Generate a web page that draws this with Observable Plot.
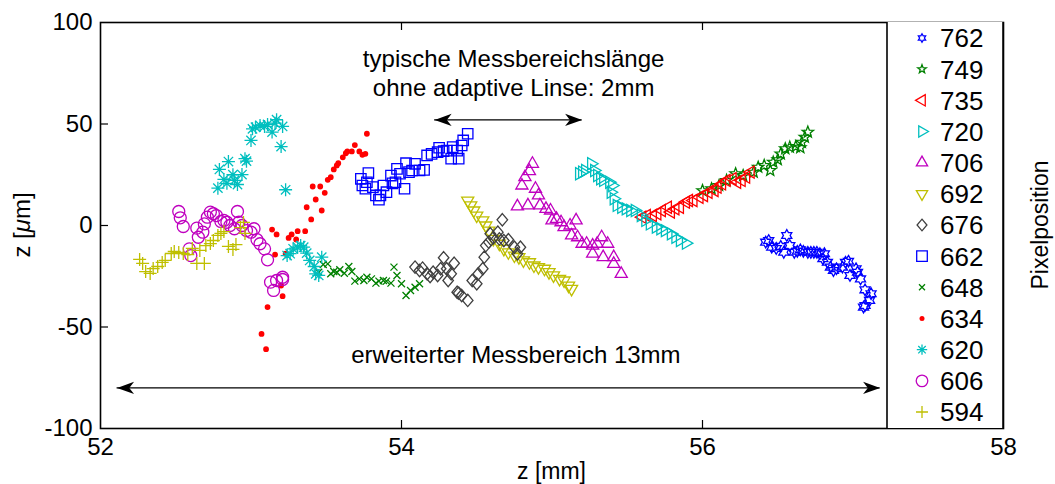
<!DOCTYPE html>
<html><head><meta charset="utf-8">
<script src="https://cdn.jsdelivr.net/npm/d3@7"></script>
<script src="https://cdn.jsdelivr.net/npm/@observablehq/plot@0.6"></script>
<style>
body{margin:0;background:#fff}
svg{font-family:"Liberation Sans",Arial,Helvetica,sans-serif}
</style>
</head><body><div id="chart"></div>
<script>
// ---------- data: [z in mm, z in µm] ----------
const s762 = [[56.42,-8.2],[56.44,-7.4],[56.46,-10.7],[56.49,-11.3],[56.52,-10.3],[56.54,-13.2],[56.56,-4.9],[56.58,-9.9],[56.61,-13.2],[56.63,-12.7],[56.65,-12.0],[56.67,-12.7],[56.70,-13.2],[56.72,-13.2],[56.74,-13.2],[56.76,-13.2],[56.78,-13.9],[56.80,-16.4],[56.81,-13.9],[56.83,-18.1],[56.85,-20.5],[56.87,-22.2],[56.89,-21.3],[56.93,-20.5],[56.95,-18.1],[56.97,-17.6],[56.98,-24.6],[57.02,-21.3],[57.03,-23.0],[57.05,-26.3],[57.08,-31.7],[57.12,-33.6],[57.11,-36.9],[57.08,-39.4],[57.07,-40.2]];
const s749 = [[56.00,17.2],[56.06,18.1],[56.11,19.7],[56.16,22.2],[56.22,25.5],[56.27,24.6],[56.34,26.3],[56.37,28.7],[56.41,29.6],[56.45,27.1],[56.47,31.2],[56.50,32.4],[56.52,35.3],[56.55,37.8],[56.58,38.6],[56.62,38.9],[56.65,38.3],[56.66,41.0],[56.68,43.5],[56.70,46.0]];
const s735 = [[55.60,4.1],[55.63,4.9],[55.67,4.9],[55.70,5.8],[55.73,7.4],[55.77,9.0],[55.79,6.6],[55.82,8.2],[55.85,9.0],[55.89,11.5],[55.91,12.3],[55.94,12.3],[55.98,13.9],[56.01,14.8],[56.04,16.4],[56.08,17.2],[56.10,18.9],[56.13,20.5],[56.16,22.2],[56.20,23.0],[56.23,21.3],[56.26,22.2],[56.29,23.8],[56.32,26.3]];
const s720 = [[55.18,25.5],[55.20,26.3],[55.22,27.1],[55.26,30.4],[55.28,27.1],[55.30,24.6],[55.32,23.0],[55.34,22.2],[55.38,21.3],[55.40,19.7],[55.39,16.4],[55.41,13.2],[55.43,9.9],[55.46,9.0],[55.49,8.2],[55.52,7.4],[55.55,7.4],[55.59,4.9],[55.62,2.5],[55.65,0.8],[55.69,-0.8],[55.72,-1.6],[55.75,-2.5],[55.79,-4.1],[55.82,-5.8],[55.85,-7.4],[55.89,-8.7]];
const s706 = [[54.77,9.4],[54.80,19.7],[54.82,23.8],[54.84,9.9],[54.85,26.8],[54.87,30.4],[54.89,18.1],[54.91,14.8],[54.92,9.9],[54.96,8.2],[54.99,7.4],[55.00,2.5],[55.03,3.3],[55.06,1.6],[55.08,-0.8],[55.12,0.0],[55.13,-4.9],[55.16,2.5],[55.17,-5.8],[55.20,-9.0],[55.23,-9.0],[55.27,-9.9],[55.27,-13.9],[55.30,-9.0],[55.33,-5.8],[55.34,-15.6],[55.37,-9.0],[55.41,-15.6],[55.41,-18.9],[55.46,-23.8]];
const s692 = [[54.44,12.3],[54.46,9.9],[54.48,7.4],[54.50,4.9],[54.54,2.5],[54.56,0.0],[54.58,-2.5],[54.61,-6.6],[54.65,-9.0],[54.68,-11.5],[54.71,-13.2],[54.75,-14.8],[54.78,-15.6],[54.81,-17.2],[54.85,-18.1],[54.88,-19.7],[54.91,-20.5],[54.95,-21.3],[54.98,-23.0],[55.01,-24.6],[55.05,-26.3],[55.08,-27.1],[55.11,-29.6],[55.13,-31.2]];
const s676 = [[54.09,-20.5],[54.12,-22.2],[54.14,-21.0],[54.17,-23.8],[54.19,-25.1],[54.21,-23.0],[54.24,-24.6],[54.26,-21.3],[54.28,-15.9],[54.30,-21.3],[54.31,-27.1],[54.33,-23.8],[54.35,-18.6],[54.37,-32.9],[54.38,-33.3],[54.40,-34.5],[54.44,-36.9],[54.47,-27.1],[54.50,-28.7],[54.51,-23.8],[54.54,-21.3],[54.55,-15.6],[54.56,-9.9],[54.58,-8.2],[54.59,-4.1],[54.61,-6.1],[54.64,-3.3],[54.65,-6.6],[54.67,2.8],[54.68,-7.4],[54.71,-7.0],[54.75,-10.7],[54.77,-13.9],[54.79,-10.7]];
const s662 = [[53.73,23.0],[53.74,19.7],[53.76,18.1],[53.77,21.3],[53.78,25.8],[53.81,18.9],[53.83,14.8],[53.85,12.7],[53.86,14.8],[53.88,19.7],[53.90,16.4],[53.93,24.6],[53.94,20.8],[53.96,21.3],[53.97,27.9],[53.99,25.5],[54.02,18.1],[54.03,30.7],[54.05,26.3],[54.07,27.1],[54.09,30.4],[54.12,27.1],[54.15,27.4],[54.17,34.5],[54.20,35.3],[54.24,36.1],[54.25,38.3],[54.28,36.6],[54.30,36.9],[54.33,32.9],[54.34,38.6],[54.37,36.9],[54.38,32.9],[54.40,39.4],[54.41,41.9],[54.44,45.2]];
const s648 = [[53.45,-23.0],[53.48,-19.2],[53.51,-18.9],[53.53,-23.8],[53.55,-22.7],[53.57,-23.0],[53.59,-21.8],[53.62,-23.5],[53.65,-20.2],[53.67,-22.7],[53.69,-27.4],[53.72,-26.3],[53.75,-27.1],[53.77,-25.5],[53.80,-26.3],[53.83,-28.4],[53.85,-27.4],[53.88,-27.1],[53.90,-27.4],[53.93,-28.4],[53.95,-20.5],[53.97,-24.6],[54.00,-28.7],[54.03,-34.5],[54.06,-32.0],[54.09,-30.4],[54.12,-28.7]];
const s634 = [[53.07,-53.4],[53.10,-60.9],[53.11,-40.2],[53.14,-2.0],[53.16,-14.3],[53.17,-4.4],[53.20,-29.6],[53.21,-34.8],[53.23,-13.9],[53.25,-6.1],[53.27,-4.4],[53.30,-6.9],[53.31,-2.8],[53.36,-2.8],[53.37,9.0],[53.40,3.0],[53.41,19.2],[53.43,12.8],[53.46,19.2],[53.47,7.4],[53.49,16.1],[53.51,22.5],[53.53,23.8],[53.55,27.6],[53.57,29.6],[53.58,30.7],[53.61,33.6],[53.63,35.6],[53.64,36.5],[53.67,36.5],[53.69,39.6],[53.72,36.5],[53.74,34.8],[53.76,35.3],[53.77,45.2]];
const s620 = [[52.78,18.4],[52.79,27.6],[52.82,22.7],[52.84,20.8],[52.85,31.5],[52.88,25.0],[52.89,22.2],[52.91,20.2],[52.94,25.1],[52.96,32.9],[52.97,31.7],[53.00,41.9],[53.01,47.6],[53.03,48.4],[53.06,49.3],[53.09,48.8],[53.11,49.8],[53.14,46.0],[53.16,50.4],[53.17,52.1],[53.21,48.8],[53.20,38.9],[53.23,17.6],[53.24,-14.8],[53.26,-13.9],[53.28,-11.5],[53.31,-10.7],[53.33,-9.9],[53.35,-10.7],[53.37,-13.6],[53.39,-17.2],[53.42,-20.2],[53.43,-23.8],[53.45,-24.6],[53.47,-15.6]];
const s606 = [[52.52,6.9],[52.53,3.8],[52.55,-0.5],[52.59,-11.5],[52.60,-14.8],[52.64,-1.3],[52.65,-5.8],[52.68,-3.3],[52.69,0.8],[52.71,4.1],[52.73,6.6],[52.75,5.8],[52.77,4.9],[52.80,2.0],[52.82,2.5],[52.84,1.6],[52.86,0.0],[52.89,-1.6],[52.91,6.9],[52.92,1.6],[52.94,0.0],[52.97,-2.5],[53.00,-3.3],[53.02,-1.6],[53.04,-7.0],[53.06,-9.0],[53.09,-11.5],[53.11,-16.9],[53.13,-27.9],[53.15,-32.0],[53.17,-27.1],[53.21,-25.5],[53.21,-26.6]];
const s594 = [[52.26,-16.7],[52.28,-18.7],[52.30,-22.7],[52.33,-23.6],[52.35,-21.2],[52.38,-20.2],[52.41,-18.2],[52.43,-17.2],[52.47,-13.8],[52.49,-12.8],[52.52,-13.3],[52.55,-13.8],[52.58,-14.3],[52.61,-11.3],[52.64,-18.7],[52.66,-12.3],[52.69,-18.7],[52.70,-9.9],[52.73,-8.9],[52.75,-7.4],[52.78,-4.9],[52.80,-3.9],[52.82,-3.0],[52.85,-10.3],[52.88,-11.8],[52.90,-9.4],[52.93,-1.0],[52.95,1.5],[52.96,-3.9]];

const seriesLabels = ["762","749","735","720","706","692","676","662","648","634","620","606","594"];
const seriesData   = [s762,s749,s735,s720,s706,s692,s676,s662,s648,s634,s620,s606,s594];

const xTicks = [52,54,56,58];
const yTicks = [-100,-50,0,50,100];
const innerXTicks = [54,56];
const innerYTicks = [-50,0,50];

// annotations
const annoText = ["typische Messbereichslänge\nohne adaptive Linse: 2mm","erweiterter Messbereich 13mm"];
const annoX = [54.745,54.76];
const annoY = [75.6,-63];
const arrowY  = [52,-80];
const arrowX1 = [54.22,52.11];
const arrowX2 = [55.20,57.18];

// ---------- styles ----------
const seriesColors = ["#0000ff","#008000","#ff0000","#00bfbf","#bf00bf","#bfbf00","#404040","#0000ff","#008000","#ff0000","#00bfbf","#bf00bf","#bfbf00"];
const seriesSymbolNames = ["hexagram","pentagram","triLeft","triRight","triUp","triDown","diamond","square","times","point","asterisk","circle","plus"];
const plotR   = {hexagram:5.8,pentagram:6,triLeft:7,triRight:7,triUp:7,triDown:7,diamond:6.2,square:5.2,times:3.5,point:2.9,asterisk:6.5,circle:6,plus:6.5};
const legendR = {hexagram:4.2,pentagram:4.5,triLeft:6.5,triRight:6.5,triUp:6.5,triDown:6.5,diamond:5.8,square:5.3,times:3,point:2.5,asterisk:5.2,circle:5.8,plus:6};

const RR = s => Math.sqrt(s/Math.PI);
function poly(ctx, pts){ctx.moveTo(pts[0][0],pts[0][1]);for(let i=1;i<pts.length;i++)ctx.lineTo(pts[i][0],pts[i][1]);ctx.closePath();}
function starPts(n, r, ri, off){const p=[];for(let k=0;k<2*n;k++){const a=off+k*Math.PI/n;const rr=k%2?ri:r;p.push([rr*Math.cos(a),rr*Math.sin(a)]);}return p;}
function tri(angle){return {draw(ctx,s){const r=RR(s);poly(ctx,[0,1,2].map(k=>[r*Math.cos(angle+k*2*Math.PI/3),r*Math.sin(angle+k*2*Math.PI/3)]));}};}
const symbolDefs = {
  hexagram:{draw(ctx,s){const r=RR(s);poly(ctx,starPts(6,r,r/Math.sqrt(3),-Math.PI/2));}},
  pentagram:{draw(ctx,s){const r=RR(s);poly(ctx,starPts(5,r,r*0.42,-Math.PI/2));}},
  triLeft:tri(Math.PI), triRight:tri(0), triUp:tri(-Math.PI/2), triDown:tri(Math.PI/2),
  diamond:{draw(ctx,s){const r=RR(s);poly(ctx,[[0,-r],[r*0.85,0],[0,r],[-r*0.85,0]]);}},
  square:{draw(ctx,s){const r=RR(s);poly(ctx,[[-r,-r],[r,-r],[r,r],[-r,r]]);}},
  times:{draw(ctx,s){const r=RR(s);ctx.moveTo(-r,-r);ctx.lineTo(r,r);ctx.moveTo(-r,r);ctx.lineTo(r,-r);}},
  point:{draw(ctx,s){const r=RR(s);ctx.moveTo(r,0);ctx.arc(0,0,r,0,2*Math.PI);}},
  asterisk:{draw(ctx,s){const r=RR(s),d=r*0.72;ctx.moveTo(-r,0);ctx.lineTo(r,0);ctx.moveTo(0,-r);ctx.lineTo(0,r);ctx.moveTo(-d,-d);ctx.lineTo(d,d);ctx.moveTo(-d,d);ctx.lineTo(d,-d);}},
  circle:{draw(ctx,s){const r=RR(s);ctx.moveTo(r,0);ctx.arc(0,0,r,0,2*Math.PI);}},
  plus:{draw(ctx,s){const r=RR(s);ctx.moveTo(-r,0);ctx.lineTo(r,0);ctx.moveTo(0,-r);ctx.lineTo(0,r);}}
};
const arrowHead = {draw(ctx,s){const L=RR(s),w=L*0.36;poly(ctx,[[0,0],[-L,-w],[-L*0.72,0],[-L,w]]);}};

// ---------- layout ----------
const W=1055,H=484,mL=100,mR=52,mT=22,mB=56;
const pw=W-mL-mR, ph=H-mT-mB;
const FONT='"Liberation Sans",Arial,Helvetica,sans-serif';

// ---------- tables ----------
const table = seriesData.flatMap((d,i)=>d.map(([x,y])=>({x,y,i})));
const annos = annoText.map((t,i)=>({t,x:annoX[i],y:annoY[i]}));
const arrows = arrowY.map((y,i)=>({y,x1:arrowX1[i],x2:arrowX2[i]}));
const heads = arrows.flatMap(a=>[{x:a.x1,y:a.y,rot:180},{x:a.x2,y:a.y,rot:0}]);

const seriesMarks = seriesLabels.map((lab,i)=>{
  const name=seriesSymbolNames[i];
  const filled = name==="point";
  return Plot.dot(table.filter(d=>d.i===i),{x:"x",y:"y",symbol:symbolDefs[name],r:plotR[name],
    stroke: filled?"none":seriesColors[i], fill: filled?seriesColors[i]:"none", strokeWidth:1.3});
});

const chart = Plot.plot({
  width:W,height:H,marginLeft:mL,marginRight:mR,marginTop:mT,marginBottom:mB,
  style:{fontFamily:FONT,fontSize:"24px",background:"white",color:"black",overflow:"visible"},
  x:{domain:[52,58],ticks:xTicks,tickSize:0,tickPadding:9,tickFormat:d=>String(d),label:null},
  y:{domain:[-100,100],ticks:yTicks,tickSize:0,tickPadding:8,tickFormat:d=>String(d),label:null},
  marks:[
    Plot.tickX(innerXTicks,{x:d=>d,insetTop:ph-8,stroke:"black",strokeWidth:1.2}),
    Plot.tickX(innerXTicks,{x:d=>d,insetBottom:ph-8,stroke:"black",strokeWidth:1.2}),
    Plot.tickY(innerYTicks,{y:d=>d,insetRight:pw-8,stroke:"black",strokeWidth:1.2}),
    ...seriesMarks,
    Plot.ruleY(arrows,{y:"y",x1:"x1",x2:"x2",stroke:"black",strokeWidth:1.3}),
    Plot.dot(heads,{x:"x",y:"y",rotate:"rot",symbol:arrowHead,r:17,fill:"black",stroke:"none"}),
    Plot.text(annos,{x:"x",y:"y",text:"t",fontSize:24,lineHeight:1.2,textAnchor:"middle",fill:"black"}),
    Plot.frame({stroke:"black",strokeWidth:1.6})
  ]
});
document.getElementById("chart").appendChild(chart);

// ---------- legend, axis titles ----------
const svg = d3.select(chart);
const right = W-mR, legLeft = right-116;
const lg = svg.append("g");
lg.append("rect").attr("x",legLeft).attr("y",mT).attr("width",116).attr("height",ph).attr("fill","white").attr("stroke","none");
lg.append("line").attr("x1",legLeft).attr("x2",legLeft).attr("y1",mT).attr("y2",H-mB).attr("stroke","black").attr("stroke-width",1.6);
lg.append("line").attr("x1",right).attr("x2",right).attr("y1",mT).attr("y2",H-mB).attr("stroke","black").attr("stroke-width",1.6);
const rowH = (ph-32)/(seriesLabels.length-1);
seriesLabels.forEach((lab,i)=>{
  const name=seriesSymbolNames[i], cy=mT+16+i*rowH, filled=name==="point";
  const r=legendR[name];
  lg.append("path").attr("d",d3.symbol(symbolDefs[name],r*r*Math.PI)())
    .attr("transform",`translate(${legLeft+35},${cy})`)
    .attr("fill",filled?seriesColors[i]:"none").attr("stroke",filled?"none":seriesColors[i]).attr("stroke-width",1.3);
  lg.append("text").attr("x",legLeft+53).attr("y",cy).attr("dy","0.36em").attr("text-anchor","start")
    .attr("font-size",26).attr("font-family",FONT).attr("fill","black").text(lab);
});
svg.append("text").attr("x",mL+pw/2).attr("y",H-5).attr("text-anchor","middle")
  .attr("font-size",23).attr("font-family",FONT).text("z [mm]");
const yl = svg.append("text").attr("transform",`translate(30,${mT+ph/2}) rotate(-90)`).attr("text-anchor","middle")
  .attr("font-size",24).attr("font-family",FONT);
yl.append("tspan").text("z [");
yl.append("tspan").attr("font-style","italic").text("μ");
yl.append("tspan").text("m]");
svg.append("text").attr("transform",`translate(1048,${mT+ph/2}) rotate(-90)`).attr("text-anchor","middle")
  .attr("font-size",23).attr("font-family",FONT).text("Pixelposition");
</script>
</body></html>
